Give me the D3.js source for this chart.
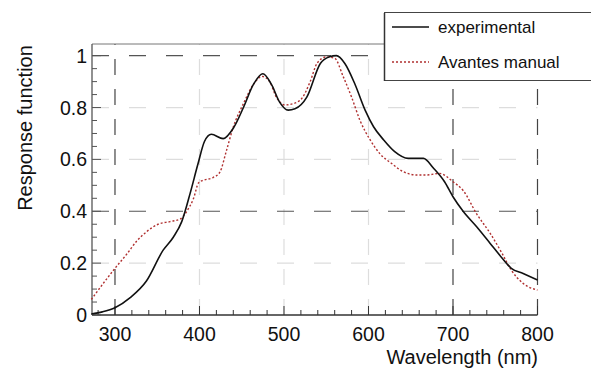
<!DOCTYPE html>
<html><head><meta charset="utf-8">
<script src="https://cdn.jsdelivr.net/npm/d3@7"></script>
<style>body{margin:0;background:#fff}svg{display:block}</style>
</head><body><svg id="c" width="591" height="369"></svg>
<script>
// Data
const expWl = [272,285,300,318,337,357,369,379,389,398,406,414,428,440,452,464,475,485,495,505,513,527,543,554,562,572,584,596,606,618,631,647,665,677,690,700,712,728,744,758,769,783,800];
const expVal = [0.004,0.012,0.028,0.067,0.13,0.25,0.30,0.36,0.47,0.58,0.67,0.697,0.68,0.72,0.80,0.89,0.93,0.89,0.82,0.79,0.795,0.84,0.97,0.996,1.0,0.97,0.89,0.79,0.726,0.675,0.63,0.604,0.604,0.566,0.514,0.456,0.40,0.34,0.276,0.22,0.18,0.16,0.135];
const avWl = [272,300,314,326,337,351,365,377,385,393,399,405,416,424,432,440,452,464,474,483,491,501,511,521,531,539,550,560,570,580,590,602,614,627,641,657,669,684,700,712,728,744,758,769,783,800];
const avVal = [0.06,0.18,0.235,0.286,0.32,0.35,0.36,0.37,0.40,0.45,0.51,0.52,0.53,0.55,0.635,0.725,0.815,0.89,0.92,0.90,0.84,0.81,0.815,0.835,0.90,0.97,0.995,0.99,0.92,0.84,0.75,0.675,0.62,0.585,0.553,0.54,0.54,0.546,0.514,0.48,0.39,0.315,0.238,0.173,0.122,0.096];
const xTicks = [300,400,500,600,700,800];
const yTicks = [0,0.2,0.4,0.6,0.8,1];
const yTickLabels = ["0","0.2","0.4","0.6","0.8","1"];
const seriesNames = ["experimental","Avantes manual"];

const svg = d3.select("#c");
const L=92, R=537.5, T=44, B=315;
const x = d3.scaleLinear().domain([272.8,800]).range([L,R]);
const y = d3.scaleLinear().domain([0,1.045]).range([B,T]);
const font = "'Liberation Sans', Arial, sans-serif";

// grid
const darkX = new Set([300,700,800]);
const darkY = new Set([0.4,1]);
svg.append("g").selectAll("line").data(xTicks).join("line")
  .attr("x1",d=>x(d)).attr("x2",d=>x(d)).attr("y1",B).attr("y2",T)
  .attr("stroke",d=>darkX.has(d)?"#444":"#ddd").attr("stroke-width",1.2)
  .attr("stroke-dasharray","16,14");
svg.append("g").selectAll("line").data(yTicks.filter(d=>d>0)).join("line")
  .attr("x1",L).attr("x2",R).attr("y1",d=>y(d)).attr("y2",d=>y(d))
  .attr("stroke",d=>darkY.has(d)?"#555":"#ddd").attr("stroke-width",1.2)
  .attr("stroke-dasharray","17,20");

// frame: top line
svg.append("line").attr("x1",L).attr("x2",591).attr("y1",T).attr("y2",T).attr("stroke","#777").attr("stroke-width",1);

// axes
const xMinor = d3.range(280,801,20);
const yMinor = d3.range(0,1.046,0.05);
const gx = svg.append("g");
gx.append("line").attr("x1",L).attr("x2",R).attr("y1",B).attr("y2",B).attr("stroke","#333").attr("stroke-width",1.3);
gx.selectAll(".mn").data(xMinor).join("line").attr("class","mn")
  .attr("x1",d=>x(d)).attr("x2",d=>x(d)).attr("y1",B).attr("y2",d=>xTicks.includes(d)?B-9:B-5)
  .attr("stroke","#333").attr("stroke-width",1);
gx.selectAll("text").data(xTicks).join("text")
  .attr("x",d=>x(d)).attr("y",341).attr("text-anchor","middle")
  .attr("font-family",font).attr("font-size",19.5).attr("fill","#111").text(d=>d);
svg.append("text").attr("x",538).attr("y",364).attr("text-anchor","end")
  .attr("font-family",font).attr("font-size",20).attr("fill","#111").text("Wavelength (nm)");

const gy = svg.append("g");
gy.append("line").attr("x1",L).attr("x2",L).attr("y1",B).attr("y2",T).attr("stroke","#555").attr("stroke-width",1.3);
gy.selectAll(".mn").data(yMinor).join("line").attr("class","mn")
  .attr("x1",L).attr("x2",(d,i)=>i%4===0?L+9:L+5).attr("y1",d=>y(d)).attr("y2",d=>y(d))
  .attr("stroke","#555").attr("stroke-width",1);
gy.selectAll("text").data(yTicks).join("text")
  .attr("x",87).attr("y",d=>y(d)+7).attr("text-anchor","end")
  .attr("font-family",font).attr("font-size",19.5).attr("fill","#111").text((d,i)=>yTickLabels[i]);
svg.append("text").attr("transform","translate(32,128) rotate(-90)").attr("text-anchor","middle")
  .attr("font-family",font).attr("font-size",20).attr("fill","#111").text("Response function");

// curves
const line = d3.line().x(d=>x(d[0])).y(d=>y(d[1])).curve(d3.curveMonotoneX);
svg.append("path").datum(avWl.map((w,i)=>[w,avVal[i]])).attr("d",line)
  .attr("fill","none").attr("stroke","#b03030").attr("stroke-width",1.4).attr("stroke-dasharray","2,2");
svg.append("path").datum(expWl.map((w,i)=>[w,expVal[i]])).attr("d",line)
  .attr("fill","none").attr("stroke","#111").attr("stroke-width",1.6);

// legend
const lg = svg.append("g");
lg.append("rect").attr("x",384.5).attr("y",12.5).attr("width",220).attr("height",68)
  .attr("fill","#fff").attr("stroke","#444").attr("stroke-width",1);
lg.append("line").attr("x1",384.5).attr("x2",384.5).attr("y1",13).attr("y2",81).attr("stroke","#333").attr("stroke-width",1.5);
lg.append("line").attr("x1",392).attr("x2",429).attr("y1",27).attr("y2",27).attr("stroke","#111").attr("stroke-width",1.5);
lg.append("line").attr("x1",392).attr("x2",429).attr("y1",62).attr("y2",62).attr("stroke","#b03030").attr("stroke-width",1.3).attr("stroke-dasharray","2,2");
lg.selectAll("text").data(seriesNames).join("text")
  .attr("x",438).attr("y",(d,i)=>i===0?33:68)
  .attr("font-family",font).attr("font-size",17).attr("fill","#111").text(d=>d);
</script></body></html>
